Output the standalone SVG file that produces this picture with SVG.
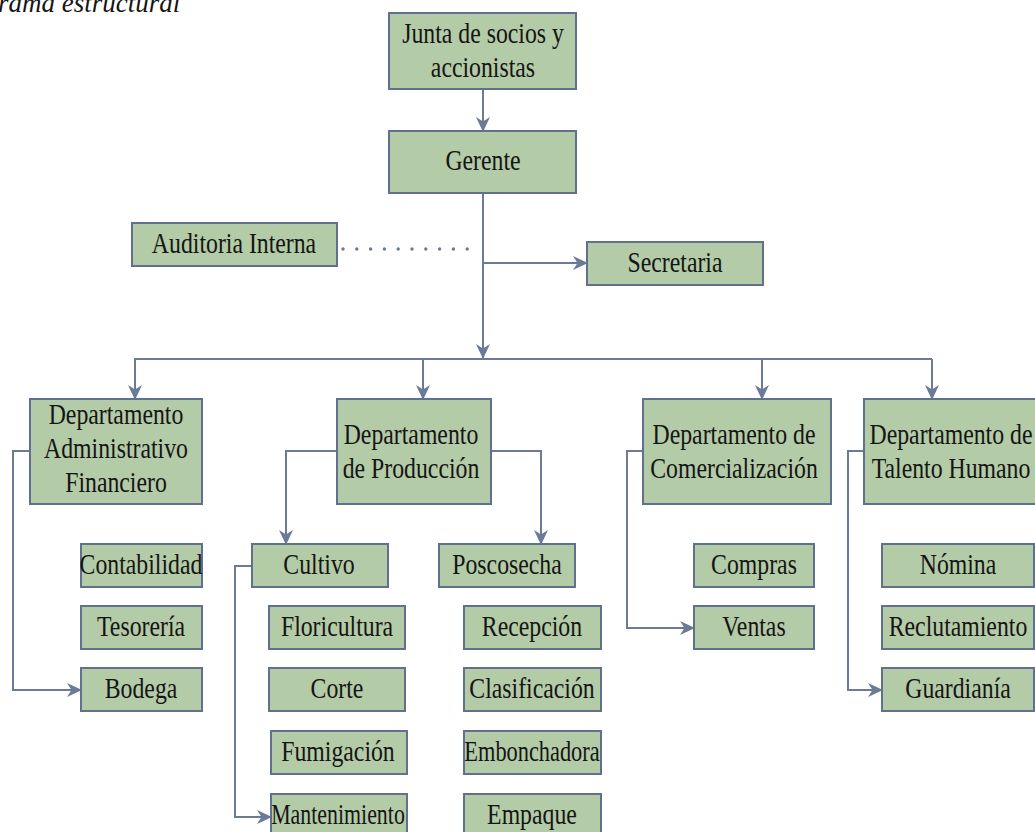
<svg xmlns="http://www.w3.org/2000/svg" width="1035" height="832" viewBox="0 0 1035 832">
<style>
.b{fill:#b3cba6;stroke:#61708f;stroke-width:2}
.t{font-family:"Liberation Serif","Times New Roman",serif;font-size:29px;fill:#151515;text-anchor:middle;transform-box:fill-box;transform-origin:center;transform:scaleX(0.82)}
.c{fill:none;stroke:#6b7a96;stroke-width:2}
.title{font-family:"Liberation Serif","Times New Roman",serif;font-size:27px;font-style:italic;fill:#151515}
</style>
<defs>
<marker id="ah" markerUnits="userSpaceOnUse" markerWidth="15" markerHeight="14" refX="14" refY="7" orient="auto">
<path d="M0,0 L15,7 L0,14 L4.5,7 z" fill="#6b7a96"/>
</marker>
</defs>
<rect width="1035" height="832" fill="#ffffff"/>
<text class="title" x="-2" y="12">rama estructural</text>

<g id="connectors">
<line class="c" x1="483" y1="89" x2="483" y2="131" marker-end="url(#ah)"/>
<line class="c" x1="483" y1="193" x2="483" y2="358" marker-end="url(#ah)"/>
<line class="c" x1="483" y1="263" x2="587" y2="263" marker-end="url(#ah)"/>
<line x1="343" y1="249" x2="468" y2="249" stroke="#6b7a96" stroke-width="3.4" stroke-linecap="round" stroke-dasharray="0 13.8"/>
<line class="c" x1="134" y1="359" x2="932" y2="359"/>
<line class="c" x1="135" y1="359" x2="135" y2="399" marker-end="url(#ah)"/>
<line class="c" x1="423" y1="359" x2="423" y2="399" marker-end="url(#ah)"/>
<line class="c" x1="762" y1="359" x2="762" y2="399" marker-end="url(#ah)"/>
<line class="c" x1="932" y1="359" x2="932" y2="399" marker-end="url(#ah)"/>
<polyline class="c" points="30,451 13,451 13,690 81,690" marker-end="url(#ah)"/>
<polyline class="c" points="337,451 286,451 286,544" marker-end="url(#ah)"/>
<polyline class="c" points="491,451 541,451 541,544" marker-end="url(#ah)"/>
<polyline class="c" points="252,566 235,566 235,817 271,817" marker-end="url(#ah)"/>
<polyline class="c" points="643,451 627,451 627,628 694,628" marker-end="url(#ah)"/>
<polyline class="c" points="864,451 848,451 848,690 882,690" marker-end="url(#ah)"/>
</g>

<g id="junta"><rect class="b" x="389" y="13" width="187" height="76"/><text class="t" x="483" y="43">Junta de socios y</text><text class="t" x="483" y="77">accionistas</text></g>
<g id="gerente"><rect class="b" x="389" y="131" width="187" height="62"/><text class="t" x="483" y="170">Gerente</text></g>
<g id="auditoria"><rect class="b" x="132" y="223" width="205" height="43"/><text class="t" x="234" y="253">Auditoria Interna</text></g>
<g id="secretaria"><rect class="b" x="587" y="242" width="176" height="43"/><text class="t" x="675" y="272">Secretaria</text></g>

<g id="dep-admin"><rect class="b" x="30" y="399" width="172" height="105"/><text class="t" x="116" y="424">Departamento</text><text class="t" x="116" y="458">Administrativo</text><text class="t" x="116" y="492">Financiero</text></g>
<g id="dep-produccion"><rect class="b" x="337" y="399" width="154" height="105"/><text class="t" x="411" y="444">Departamento</text><text class="t" x="411" y="478">de Producción</text></g>
<g id="dep-comercial"><rect class="b" x="643" y="399" width="188" height="105"/><text class="t" x="734" y="444">Departamento de</text><text class="t" x="734" y="478">Comercialización</text></g>
<g id="dep-talento"><rect class="b" x="864" y="399" width="176" height="105"/><text class="t" x="951" y="444">Departamento de</text><text class="t" x="951" y="478">Talento Humano</text></g>

<g id="contabilidad"><rect class="b" x="81" y="544" width="121" height="43"/><text class="t" x="141" y="574">Contabilidad</text></g>
<g id="tesoreria"><rect class="b" x="81" y="606" width="121" height="43"/><text class="t" x="141" y="636">Tesorería</text></g>
<g id="bodega"><rect class="b" x="81" y="668" width="121" height="43"/><text class="t" x="141" y="698">Bodega</text></g>

<g id="cultivo"><rect class="b" x="252" y="544" width="136" height="43"/><text class="t" x="319" y="574">Cultivo</text></g>
<g id="floricultura"><rect class="b" x="269" y="606" width="136" height="43"/><text class="t" x="337" y="636">Floricultura</text></g>
<g id="corte"><rect class="b" x="269" y="668" width="136" height="43"/><text class="t" x="337" y="698">Corte</text></g>
<g id="fumigacion"><rect class="b" x="271" y="731" width="136" height="43"/><text class="t" x="338" y="761">Fumigación</text></g>
<g id="mantenimiento"><rect class="b" x="271" y="794" width="136" height="43"/><text class="t" x="338" y="824" textLength="163" lengthAdjust="spacingAndGlyphs">Mantenimiento</text></g>

<g id="poscosecha"><rect class="b" x="439" y="544" width="136" height="43"/><text class="t" x="507" y="574">Poscosecha</text></g>
<g id="recepcion"><rect class="b" x="464" y="606" width="137" height="43"/><text class="t" x="532" y="636">Recepción</text></g>
<g id="clasificacion"><rect class="b" x="464" y="668" width="137" height="43"/><text class="t" x="532" y="698">Clasificación</text></g>
<g id="embonchadora"><rect class="b" x="464" y="731" width="137" height="43"/><text class="t" x="532" y="761" textLength="165" lengthAdjust="spacingAndGlyphs">Embonchadora</text></g>
<g id="empaque"><rect class="b" x="464" y="794" width="137" height="43"/><text class="t" x="532" y="824">Empaque</text></g>

<g id="compras"><rect class="b" x="694" y="544" width="120" height="43"/><text class="t" x="754" y="574">Compras</text></g>
<g id="ventas"><rect class="b" x="694" y="606" width="120" height="43"/><text class="t" x="754" y="636">Ventas</text></g>

<g id="nomina"><rect class="b" x="882" y="544" width="152" height="43"/><text class="t" x="958" y="574">Nómina</text></g>
<g id="reclutamiento"><rect class="b" x="882" y="606" width="152" height="43"/><text class="t" x="958" y="636">Reclutamiento</text></g>
<g id="guardiania"><rect class="b" x="882" y="668" width="152" height="43"/><text class="t" x="958" y="698">Guardianía</text></g>
</svg>
